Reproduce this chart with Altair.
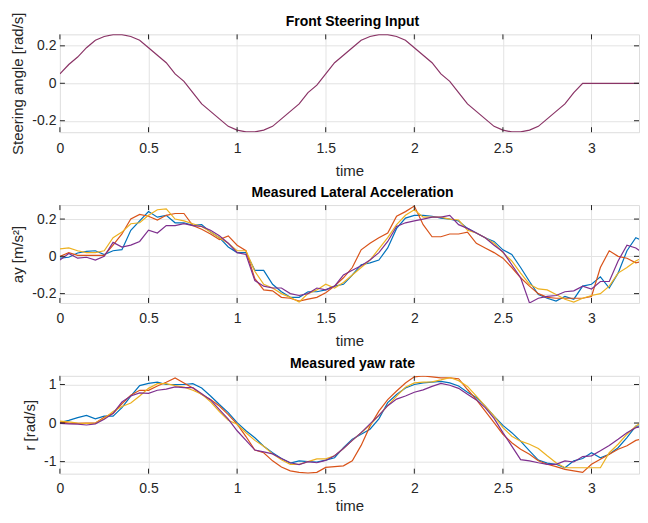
import altair as alt
import pandas as pd

# sample times (s)
TIME = [round(i * 0.05, 2) for i in range(68)]

STEER = [0.05, 0.10, 0.14, 0.19, 0.23, 0.25, 0.26, 0.26, 0.25, 0.23,
         0.19, 0.15, 0.11, 0.05, 0.01, -0.05, -0.11, -0.15, -0.19, -0.23,
         -0.25, -0.26, -0.26, -0.25, -0.23, -0.19, -0.15, -0.11, -0.05, -0.01,
         0.05, 0.11, 0.15, 0.19, 0.23, 0.25, 0.26, 0.26, 0.25, 0.23,
         0.19, 0.15, 0.11, 0.05, 0.01, -0.05, -0.11, -0.15, -0.19, -0.23,
         -0.25, -0.26, -0.26, -0.25, -0.23, -0.19, -0.15, -0.11, -0.05, 0.0,
         0.0, 0.0, 0.0, 0.0, 0.0, 0.0, 0.0, 0.0]

AY_BLUE = [-0.01, -0.005, 0.018, 0.027, 0.03, 0.01, 0.03, 0.036, 0.14, 0.19,
           0.24, 0.21, 0.22, 0.18, 0.18, 0.166, 0.17, 0.13, 0.10, 0.05,
           0.02, 0.02, -0.075, -0.075, -0.15, -0.19, -0.22, -0.22, -0.19, -0.19,
           -0.18, -0.16, -0.15, -0.10, -0.045, -0.035, -0.02, 0.045, 0.15, 0.205,
           0.22, 0.22, 0.215, 0.205, 0.20, 0.19, 0.15, 0.125, 0.10, 0.08,
           0.035, 0.01, -0.06, -0.135, -0.205, -0.225, -0.24, -0.215, -0.23, -0.16,
           -0.15, -0.11, -0.17, -0.09, 0.03, 0.10, 0.08, 0.01]
AY_ORANGE = [0.0, 0.02, 0.005, 0.005, 0.005, 0.005, 0.06, 0.12, 0.20, 0.225,
             0.215, 0.195, 0.22, 0.23, 0.23, 0.165, 0.145, 0.12, 0.09, 0.11,
             0.06, 0.03, -0.12, -0.18, -0.185, -0.22, -0.225, -0.24, -0.23, -0.22,
             -0.195, -0.16, -0.115, -0.06, 0.035, 0.07, 0.10, 0.125, 0.215, 0.24,
             0.27, 0.17, 0.105, 0.105, 0.12, 0.12, 0.13, 0.07, 0.045, 0.02,
             -0.01, -0.06, -0.115, -0.16, -0.20, -0.22, -0.225, -0.225, -0.225, -0.225,
             -0.215, -0.06, 0.03, 0.0, -0.01, -0.035, -0.025, -0.05]
AY_YELLOW = [0.04, 0.045, 0.03, 0.02, 0.02, 0.03, 0.10, 0.13, 0.175, 0.18,
             0.22, 0.25, 0.255, 0.20, 0.19, 0.175, 0.16, 0.13, 0.10, 0.07,
             0.03, 0.03, -0.08, -0.15, -0.17, -0.20, -0.22, -0.245, -0.20, -0.18,
             -0.15, -0.17, -0.14, -0.10, -0.06, -0.02, 0.04, 0.10, 0.17, 0.22,
             0.25, 0.21, 0.21, 0.21, 0.20, 0.195, 0.14, 0.125, 0.10, 0.07,
             0.02, -0.025, -0.09, -0.15, -0.175, -0.18, -0.205, -0.23, -0.245, -0.225,
             -0.21, -0.20, -0.16, -0.09, -0.06, -0.025, 0.0, 0.01]
AY_PURPLE = [-0.02, 0.015, -0.01, -0.005, -0.02, 0.0, 0.075, 0.05, 0.06, 0.08,
             0.14, 0.125, 0.165, 0.165, 0.175, 0.165, 0.16, 0.14, 0.11, 0.07,
             0.02, 0.01, -0.13, -0.16, -0.17, -0.17, -0.20, -0.21, -0.20, -0.17,
             -0.18, -0.16, -0.10, -0.075, -0.05, -0.02, 0.02, 0.08, 0.16, 0.18,
             0.19, 0.20, 0.21, 0.21, 0.22, 0.17, 0.15, 0.125, 0.10, 0.06,
             0.025, -0.045, -0.115, -0.25, -0.225, -0.215, -0.21, -0.19, -0.185, -0.16,
             -0.175, -0.135, -0.135, -0.025, 0.06, 0.045, 0.012, 0.0]

R_BLUE = [0.01, 0.07, 0.14, 0.20, 0.11, 0.18, 0.18, 0.40, 0.70, 0.97,
          1.03, 1.06, 1.00, 1.00, 1.00, 1.02, 0.91, 0.70, 0.48, 0.27,
          0.01, -0.20, -0.38, -0.60, -0.77, -0.92, -1.04, -0.98, -1.00, -1.01,
          -0.96, -0.90, -0.64, -0.42, -0.29, -0.16, 0.11, 0.53, 0.74, 0.91,
          1.00, 1.04, 1.06, 1.08, 1.04, 0.96, 0.80, 0.66, 0.44, 0.18,
          -0.06, -0.25, -0.47, -0.72, -0.96, -1.04, -1.07, -1.16, -0.98, -0.92,
          -0.77, -0.90, -0.81, -0.64, -0.38, -0.08, -0.08, -0.05]
R_ORANGE = [0.03, 0.0, -0.01, 0.0, 0.0, 0.15, 0.25, 0.50, 0.72, 0.85,
            0.85, 0.96, 1.06, 1.17, 1.04, 0.91, 0.74, 0.61, 0.44, 0.22,
            -0.03, -0.35, -0.70, -0.77, -0.98, -1.14, -1.24, -1.28, -1.30, -1.28,
            -1.15, -1.13, -1.11, -0.98, -0.58, -0.08, 0.31, 0.61, 0.83, 1.04,
            1.20, 1.22, 1.20, 1.17, 1.17, 1.15, 0.87, 0.61, 0.31, 0.01,
            -0.29, -0.51, -0.68, -0.81, -0.98, -1.07, -1.13, -1.20, -1.24, -1.28,
            -1.07, -0.94, -0.81, -0.68, -0.59, -0.45, -0.40, -0.40]
R_YELLOW = [0.05, 0.03, 0.0, -0.01, 0.0, 0.12, 0.30, 0.43, 0.52, 0.70,
            0.90, 1.02, 1.02, 0.97, 0.93, 0.85, 0.75, 0.55, 0.30, 0.07,
            -0.03, -0.25, -0.45, -0.60, -0.80, -0.95, -1.07, -1.07, -1.00, -0.93,
            -0.93, -0.85, -0.66, -0.45, -0.25, -0.05, 0.20, 0.45, 0.70, 0.93,
            1.04, 1.06, 1.07, 1.12, 1.18, 1.10, 0.95, 0.70, 0.44, 0.18,
            -0.12, -0.34, -0.47, -0.55, -0.66, -0.85, -1.03, -1.16, -1.16, -1.16,
            -1.16, -1.16, -0.77, -0.55, -0.29, -0.08, 0.08, 0.08]
R_PURPLE = [-0.01, -0.02, -0.03, -0.05, -0.02, 0.10, 0.25, 0.55, 0.70, 0.78,
            0.77, 0.85, 0.88, 0.94, 0.92, 0.92, 0.76, 0.60, 0.35, 0.10,
            -0.20, -0.45, -0.70, -0.75, -0.80, -0.92, -1.03, -1.08, -1.00, -1.03,
            -0.97, -0.85, -0.66, -0.45, -0.25, -0.02, 0.20, 0.45, 0.62, 0.70,
            0.80, 0.86, 0.95, 1.03, 0.98, 0.90, 0.75, 0.60, 0.40, 0.12,
            -0.25, -0.60, -0.95, -0.98, -1.03, -1.07, -1.07, -0.98, -1.01, -0.87,
            -0.85, -0.72, -0.58, -0.42, -0.25, -0.12, -0.08, -0.05]

COLORS = ["#0072BD", "#D95319", "#EDB120", "#7E2F8E"]
STEER_COLOR = "#8A3466"
X_DOMAIN = [0, 3.268]
X_TICKS = [0, 0.5, 1, 1.5, 2, 2.5, 3]

W, H = 580, 98
FONT = "Liberation Sans"
TXT = "#262626"
TICK_LEN = 5


def make_panel(series, colors, ydom, yticks, ytitle, title, label_pad=9, title_pad=8):
    xscale = alt.Scale(domain=X_DOMAIN, nice=False, zero=False)
    yscale = alt.Scale(domain=ydom, nice=False, zero=False)
    xaxis = alt.Axis(values=X_TICKS, labelExpr="datum.value + ''", title="time",
                     grid=True, ticks=False, domain=False, labelPadding=label_pad,
                     titlePadding=title_pad, labelFontSize=14, titleFontSize=15,
                     labelFont=FONT, titleFont=FONT, labelColor=TXT, titleColor=TXT,
                     titleFontWeight="normal", gridColor="#E3E3E3", labelFlush=False)
    yaxis = alt.Axis(values=yticks, labelExpr="datum.value + ''", title=ytitle,
                     grid=True, ticks=False, domain=False, labelPadding=4,
                     titlePadding=6, labelFontSize=14, titleFontSize=15,
                     labelFont=FONT, titleFont=FONT, labelColor=TXT, titleColor=TXT,
                     titleFontWeight="normal", gridColor="#E3E3E3", labelFlush=False)
    layers = []
    for vals, col in zip(series, colors):
        df = pd.DataFrame({"t": TIME, "v": vals})
        layers.append(
            alt.Chart(df).mark_line(color=col, strokeWidth=1.2, clip=True).encode(
                x=alt.X("t:Q", scale=xscale, axis=xaxis),
                y=alt.Y("v:Q", scale=yscale, axis=yaxis),
            )
        )
    xt = pd.DataFrame({"t": X_TICKS})
    yt = pd.DataFrame({"v": yticks})
    tick_style = dict(color=TXT, strokeWidth=1)
    layers.append(alt.Chart(xt).mark_rule(**tick_style).encode(
        x=alt.X("t:Q", scale=xscale, axis=xaxis), y=alt.value(0), y2=alt.value(TICK_LEN)))
    layers.append(alt.Chart(xt).mark_rule(**tick_style).encode(
        x=alt.X("t:Q", scale=xscale, axis=xaxis), y=alt.value(H), y2=alt.value(H - TICK_LEN)))
    layers.append(alt.Chart(yt).mark_rule(**tick_style).encode(
        y=alt.Y("v:Q", scale=yscale, axis=yaxis), x=alt.value(0), x2=alt.value(TICK_LEN)))
    layers.append(alt.Chart(yt).mark_rule(**tick_style).encode(
        y=alt.Y("v:Q", scale=yscale, axis=yaxis), x=alt.value(W), x2=alt.value(W - TICK_LEN)))
    # panel title drawn as a text mark just above the plot area
    tdf = pd.DataFrame({"label": [title]})
    layers.append(alt.Chart(tdf).mark_text(
        font=FONT, fontSize=14, fontWeight="bold", color="#000000",
        align="center", baseline="alphabetic").encode(
        text="label:N", x=alt.value(W / 2 + 3), y=alt.value(-8)))
    return alt.layer(*layers).properties(width=W, height=H)


p1 = make_panel([STEER], [STEER_COLOR], [-0.2613, 0.2613], [-0.2, 0, 0.2],
                "Steering angle [rad/s]", "Front Steering Input")
p2 = make_panel([AY_BLUE, AY_ORANGE, AY_YELLOW, AY_PURPLE], COLORS, [-0.25, 0.275],
                [-0.2, 0, 0.2], "ay [m/s²]", "Measured Lateral Acceleration")
p3 = make_panel([R_BLUE, R_ORANGE, R_YELLOW, R_PURPLE], COLORS, [-1.313, 1.225],
                [-1, 0, 1], "r [rad/s]", "Measured yaw rate", label_pad=8, title_pad=3)

chart = alt.vconcat(p1, p2, p3, spacing=73, bounds="flush").properties(
    padding={"left": 2, "top": 3, "right": 0, "bottom": 0}
).configure_view(stroke="#3A3A3A", strokeWidth=1.3).configure(background="white")

chart.save("out.html", embed_options={"renderer": "svg", "actions": False})
